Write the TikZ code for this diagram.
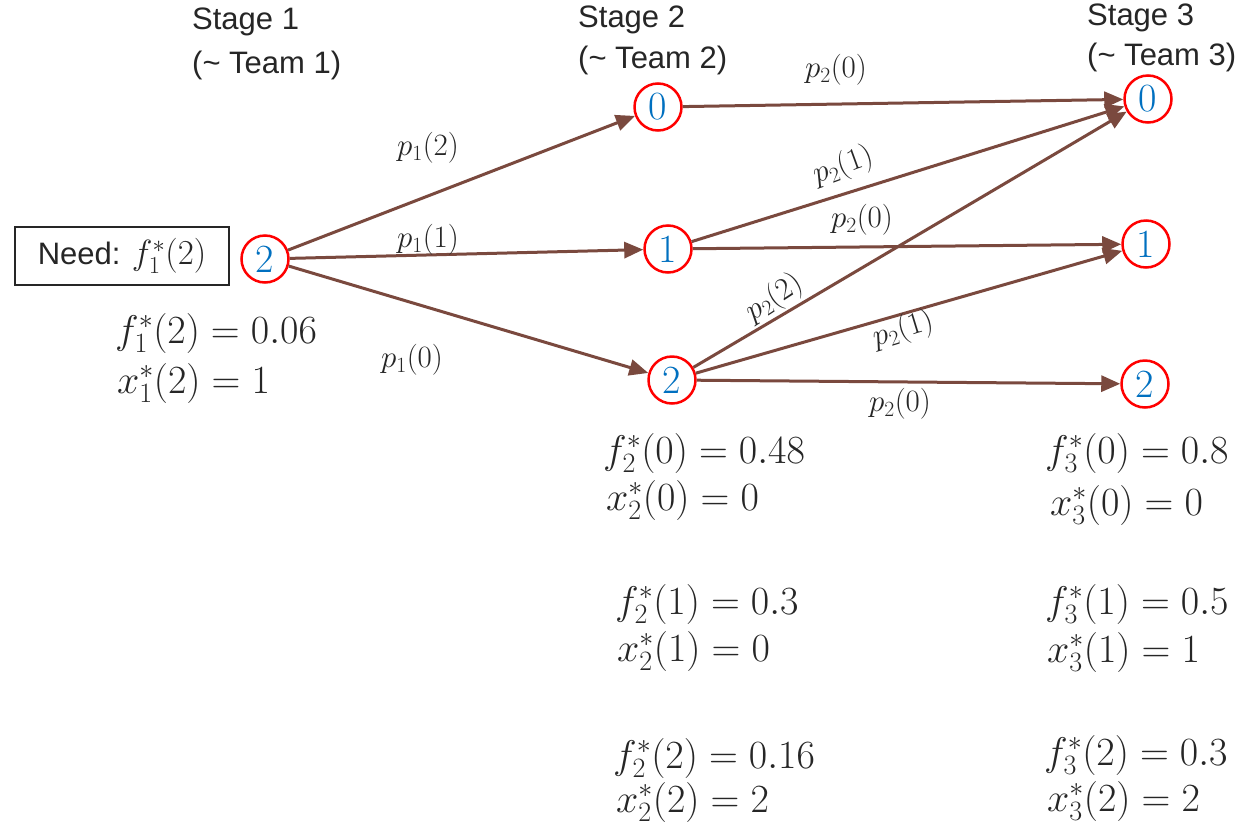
\RequirePackage{fix-cm}
\documentclass[tikz,border=0pt]{standalone}
\usepackage{fontspec}
\setsansfont{Liberation Sans}
\usetikzlibrary{arrows.meta}
\definecolor{arrowbrown}{RGB}{122,73,62}
\definecolor{txtgray}{RGB}{38,38,38}
\definecolor{numblue}{RGB}{0,112,192}
\tikzset{
  state/.style={circle, draw=red, line width=2.5pt, fill=white, minimum size=47pt, inner sep=0pt, text=numblue, font=\fontsize{40}{40}\selectfont},
  flow/.style={draw=arrowbrown, line width=3pt, -{Triangle[length=19pt,width=16pt]}},
  plab/.style={font=\fontsize{31}{34}\selectfont, text=txtgray, inner sep=0pt},
  vallab/.style={font=\fontsize{40}{44}\selectfont, text=txtgray, anchor=west, inner sep=0pt},
  stagelab/.style={font=\sffamily\fontsize{31}{36}\selectfont, text=txtgray, anchor=west, inner sep=0pt},
  needbox/.style={draw=txtgray, line width=1.5pt, minimum width=214pt, minimum height=58pt, inner sep=0pt, text=txtgray, font=\sffamily\fontsize{31}{36}\selectfont},
}
\begin{document}
\begin{tikzpicture}[x=1pt,y=-1pt]
\path[use as bounding box, fill=white] (0,0) rectangle (1247,825);

% stage headings
\node[stagelab] (st1) at (192,22) {Stage 1};
\node[stagelab] (tm1) at (192,65) {(\textasciitilde{} Team 1)};
\node[stagelab] (st2) at (578,20) {Stage 2};
\node[stagelab] (tm2) at (578,60) {(\textasciitilde{} Team 2)};
\node[stagelab] (st3) at (1087,18) {Stage 3};
\node[stagelab] (tm3) at (1087,57) {(\textasciitilde{} Team 3)};

% need box
\node[needbox] (need) at (122,256) {Need: \fontsize{35}{38}\selectfont$f_1^*(2)$};

% states
\node[state] (a2) at (265,259) {2};
\node[state] (b0) at (658,107) {0};
\node[state] (b1) at (668,249) {1};
\node[state] (b2) at (672,380) {2};
\node[state] (c0) at (1148,99) {0};
\node[state] (c1) at (1146,244) {1};
\node[state] (c2) at (1145,384) {2};

% connectors
\draw[flow] (a2) -- (b0);
\draw[flow] (a2) -- (b1);
\draw[flow] (a2) -- (b2);
\draw[flow] (b0) -- (c0);
\draw[flow] (b1) -- (c0);
\draw[flow] (b1) -- (c1);
\draw[flow] (b2) -- (c0);
\draw[flow] (b2) -- (c1);
\draw[flow] (b2) -- (c2);

% edge labels
\node[plab] (l1) at (428,148) {$p_1(2)$};
\node[plab] (l2) at (428,240) {$p_1(1)$};
\node[plab] (l3) at (412,360) {$p_1(0)$};
\node[plab] (l4) at (836,70) {$p_2(0)$};
\node[plab, rotate=20] (l5) at (843,166) {$p_2(1)$};
\node[plab] (l6) at (862,220) {$p_2(0)$};
\node[plab, rotate=33] (l7) at (774,298) {$p_2(2)$};
\node[plab, rotate=17] (l8) at (903,330) {$p_2(1)$};
\node[plab] (l9) at (900,404) {$p_2(0)$};

% values
\node[vallab] (f1) at (115,333) {$f_1^*(2) = 0.06$};
\node[vallab] (x1) at (117,383) {$x_1^*(2) = 1$};

\node[vallab] (f20) at (603,453) {$f_2^*(0) = 0.48$};
\node[vallab] (x20) at (606,500) {$x_2^*(0) = 0$};
\node[vallab] (f21) at (615,604) {$f_2^*(1) = 0.3$};
\node[vallab] (x21) at (617,651) {$x_2^*(1) = 0$};
\node[vallab] (f22) at (613,758) {$f_2^*(2) = 0.16$};
\node[vallab] (x22) at (616,802) {$x_2^*(2) = 2$};

\node[vallab] (f30) at (1045,453) {$f_3^*(0) = 0.8$};
\node[vallab] (x30) at (1050,505) {$x_3^*(0) = 0$};
\node[vallab] (f31) at (1045,604) {$f_3^*(1) = 0.5$};
\node[vallab] (x31) at (1047,652) {$x_3^*(1) = 1$};
\node[vallab] (f32) at (1044,755) {$f_3^*(2) = 0.3$};
\node[vallab] (x32) at (1047,801) {$x_3^*(2) = 2$};
\end{tikzpicture}
\end{document}
